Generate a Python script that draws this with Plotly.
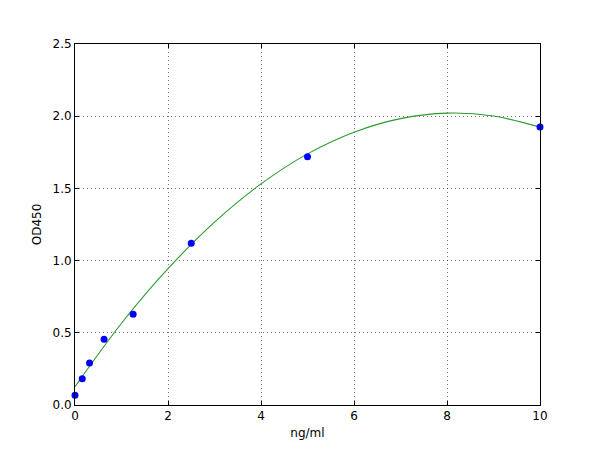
import plotly.graph_objects as go

# standard points
conc = [0, 0.156, 0.3125, 0.625, 1.25, 2.5, 5, 10]
od450 = [0.067, 0.182, 0.29, 0.455, 0.628, 1.12, 1.72, 1.925]

# fitted curve
fit_x = [0, 1, 2, 3, 4, 5, 6, 7, 8, 9, 10]
fit_y = [0.127, 0.566, 0.944, 1.266, 1.531, 1.739, 1.889, 1.983, 2.021, 2.001, 1.924]

fig = go.Figure()
fig.add_trace(go.Scatter(x=fit_x, y=fit_y, mode="lines", line=dict(color="#2a9a2a", width=1.1, shape="spline"),
                         showlegend=False, hoverinfo="skip"))
fig.add_trace(go.Scatter(x=conc, y=od450, mode="markers", marker=dict(color="#0000ff", size=7),
                         showlegend=False, cliponaxis=False))

axis = dict(showline=True, linecolor="black", linewidth=1, mirror="ticks", ticks="inside", ticklen=4,
            tickcolor="black", showgrid=True, gridcolor="rgba(0,0,0,0.55)", griddash="1px,3px", gridwidth=1,
            zeroline=False, tickfont=dict(size=12, color="black"))

fig.update_xaxes(axis, range=[0, 10], tickvals=[0, 2, 4, 6, 8, 10],
                 title=dict(text="ng/ml", font=dict(size=12, color="black"), standoff=6))
fig.update_yaxes(axis, range=[0, 2.5], tickvals=[0, 0.5, 1, 1.5, 2, 2.5], tickformat=".1f",
                 title=dict(text="OD450", font=dict(size=12, color="black"), standoff=8))

# page body adds 8px, so margins are shifted to land the axes where the reference has them
fig.update_layout(width=600, height=450, paper_bgcolor="white", plot_bgcolor="white",
                  font=dict(family="DejaVu Sans", color="black"),
                  margin=dict(l=67, r=68, t=36, b=53))

fig.write_html("out.html")
